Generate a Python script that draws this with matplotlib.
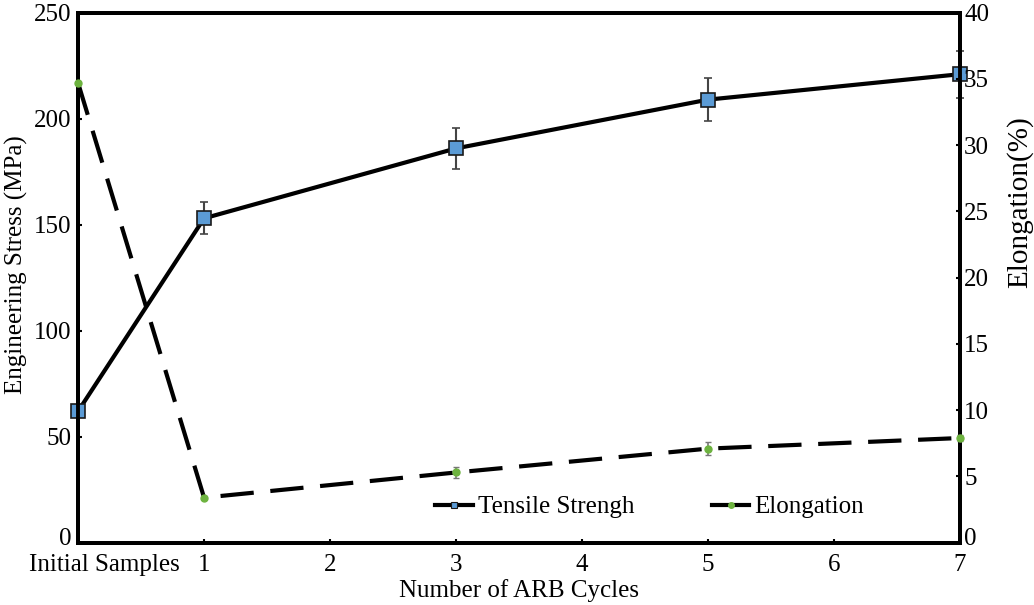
import numpy as np
import matplotlib.pyplot as plt
import matplotlib.transforms as mtransforms
from matplotlib.lines import Line2D

plt.rcParams['font.family'] = ['Liberation Serif', 'DejaVu Serif']

# data
cycles = [0, 1, 3, 5, 7]
tick_pos = [0, 1, 2, 3, 4, 5, 6, 7]
tick_labels = ['Initial Samples', '1', '2', '3', '4', '5', '6', '7']
stress = [62, 153, 186, 209, 221]
stress_err = [0, 7.5, 9.5, 10, 11]
elong = [34.7, 3.4, 5.3, 7.1, 7.9]
elong_err = [0, 0.1, 0.4, 0.5, 0.2]

blue = '#5b9bd5'
green = '#6db33f'

fig = plt.figure(figsize=(10.34, 6.05), dpi=100)
ax = fig.add_axes([0.0755, 0.103, 0.853, 0.876])
ax2 = ax.twinx()

ax.errorbar(cycles, stress, yerr=stress_err, color='black', lw=3,
            marker='s', ms=10, mfc=blue, mec='#1a1a1a', mew=1.2,
            ecolor='#444444', elinewidth=1.5, capsize=3, capthick=1.5,
            zorder=3, clip_on=False)
ax2.errorbar(cycles, elong, yerr=elong_err, color='black', lw=3,
             dashes=(8, 4), marker='o', ms=5, mfc=green, mec=green,
             ecolor='#777777', elinewidth=1.2, capsize=2,
             zorder=3, clip_on=False)

ax.set_xlim(0, 7)
ax.set_ylim(0, 250)
ax2.set_ylim(0, 40)
ax.set_xticks(tick_pos)
ax.set_xticklabels(tick_labels)
ax.set_yticks(np.arange(0, 251, 50))
ax2.set_yticks(np.arange(0, 41, 5))

for a in (ax, ax2):
    for s in a.spines.values():
        s.set_linewidth(2.8)
    a.tick_params(direction='in', length=3, width=1.5, labelsize=18, pad=5)
ax.tick_params(axis='x', pad=8)
ax2.tick_params(axis='y', pad=3)

# "Initial Samples" sits to the right of its tick, the 0 labels a bit up
off = mtransforms.ScaledTranslation(0.26, 0, fig.dpi_scale_trans)
lab0 = ax.get_xticklabels()[0]
lab0.set_transform(lab0.get_transform() + off)
up = mtransforms.ScaledTranslation(0, 0.06, fig.dpi_scale_trans)
for lab in (ax.get_yticklabels()[0], ax2.get_yticklabels()[0]):
    lab.set_transform(lab.get_transform() + up)

ax.set_xlabel('Number of ARB Cycles', fontsize=18, labelpad=2)
ax.set_ylabel('Engineering Stress (MPa)', fontsize=18)
ax.yaxis.set_label_coords(-0.057, 0.525)
ax2.set_ylabel('Elongation(%)', fontsize=21)
ax2.yaxis.set_label_coords(1.052, 0.643)

handles = [Line2D([], [], color='black', lw=3, marker='s', ms=5,
                  mfc=blue, mec='#1a1a1a', mew=0.8),
           Line2D([], [], color='black', lw=3, marker='o', ms=4,
                  mfc=green, mec=green)]
ax.legend(handles, ['Tensile Strengh', 'Elongation'], loc='center',
          bbox_to_anchor=(0.648, 0.067), ncol=2, frameon=False, fontsize=18,
          handlelength=1.5, handletextpad=0.2, columnspacing=3.1)

fig.savefig('out.png', dpi=100)
